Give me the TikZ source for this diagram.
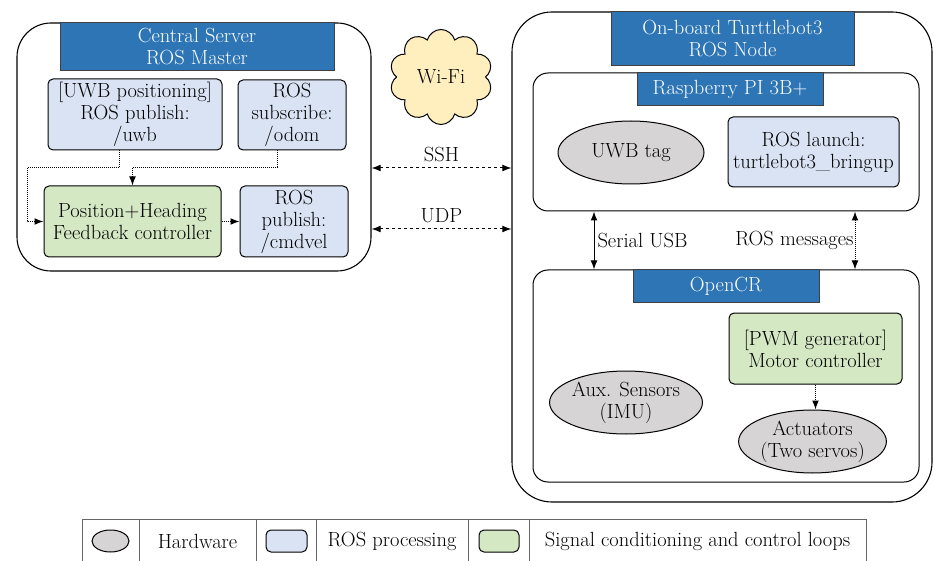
\documentclass[tikz,border=0pt]{standalone}
\usetikzlibrary{shapes.geometric,shapes.symbols,arrows.meta}

\definecolor{hdrblue}{RGB}{46,117,182}
\definecolor{rosblue}{RGB}{218,227,243}
\definecolor{ctrlgreen}{RGB}{213,232,196}
\definecolor{hwgray}{RGB}{214,212,212}
\definecolor{wifiyellow}{RGB}{255,238,190}

\tikzset{
  container/.style={draw, line width=1.1pt, rounded corners=34pt},
  board/.style={draw, line width=1pt, rounded corners=15pt},
  header/.style={draw=black!75, fill=hdrblue, text=white, line width=1pt, align=center, inner sep=0pt},
  rosbox/.style={draw, fill=rosblue, rounded corners=5pt, line width=1pt, align=center, inner sep=0pt},
  ctrlbox/.style={rosbox, fill=ctrlgreen},
  hwell/.style={draw, fill=hwgray, ellipse, line width=1pt, align=center, inner sep=0pt},
  link/.style={dashed, line width=1pt, {Latex[length=9pt]}-{Latex[length=9pt]}},
  usb/.style={line width=1pt, {Latex[length=9pt]}-{Latex[length=9pt]}},
  rosmsg/.style={densely dotted, line width=1pt, {Latex[length=9pt]}-{Latex[length=9pt]}},
  flow/.style={densely dotted, line width=1pt, -{Latex[length=9pt]}},
  key/.style={draw=black!60, line width=0.7pt},
}

\begin{document}
\begin{tikzpicture}[x=1pt, y=-1pt, font=\fontsize{20.5}{22}\selectfont]
    \useasboundingbox (0,0) rectangle (934,561);

    % central server
    \node[container, minimum width=354pt, minimum height=248pt] (server) at (194,147) {};
    \node[header, minimum width=274pt, minimum height=48pt] (serverhdr) at (197,47) {Central Server\\ROS Master};
    \node[rosbox, minimum width=174pt, minimum height=71pt] (uwbpub) at (135,114.5) {[UWB positioning]\\ROS publish:\\/uwb};
    \node[rosbox, minimum width=108pt, minimum height=70pt] (odom) at (292,115) {ROS\\subscribe:\\/odom};
    \node[ctrlbox, minimum width=177pt, minimum height=71pt] (ctrl) at (132.5,221.5) {Position+Heading\\Feedback controller};
    \node[rosbox, minimum width=108pt, minimum height=71pt] (cmdvel) at (294,221.5) {ROS\\publish:\\/cmdvel};
    \coordinate (fbk) at (27,168);

    \draw[flow] ([xshift=-16pt]uwbpub.south) |- (fbk) |- (ctrl.west);
    \draw[flow] ([xshift=-15pt]odom.south) |- ([yshift=18pt]ctrl.north) -- (ctrl.north);
    \draw[flow] (ctrl) -- (cmdvel);

    \node[cloud, cloud puffs=10, aspect=1.1, draw, fill=wifiyellow, line width=1pt,
          minimum width=103pt, minimum height=95pt, inner sep=0pt] (wifi) at (441,77) {Wi-Fi};

    % on-board robot
    \node[container, rounded corners=40pt, minimum width=420pt, minimum height=490pt] (robot) at (722,257) {};
    \node[header, minimum width=243pt, minimum height=54pt] (robothdr) at (732.5,39) {On-board Turttlebot3\\ROS Node};

    \node[board, minimum width=386pt, minimum height=138pt] (rpi) at (726,142) {};
    \node[header, minimum width=186pt, minimum height=33pt] (rpihdr) at (730,89.5) {Raspberry PI 3B+};
    \node[hwell, minimum width=146pt, minimum height=63pt] (uwbtag) at (631,152.5) {UWB tag};
    \node[rosbox, minimum width=171pt, minimum height=70pt] (launch) at (813.5,152) {ROS launch:\\turtlebot3\_bringup};

    \node[board, minimum width=386pt, minimum height=212pt] (opencr) at (726,376) {};
    \node[header, minimum width=186pt, minimum height=32pt] (opencrhdr) at (726,286) {OpenCR};
    \node[ctrlbox, minimum width=173pt, minimum height=71pt] (pwm) at (815.5,348.5) {[PWM generator]\\Motor controller};
    \node[hwell, minimum width=146pt, minimum height=63pt] (aux) at (626,402.5) {Aux. Sensors\\(IMU)};
    \node[hwell, minimum width=147pt, minimum height=63pt] (act) at (812.5,441.5) {Actuators\\(Two servos)};

    \draw[flow] (pwm.south) -- (pwm.south |- act.north);
    \draw[usb] ([xshift=-132pt]rpi.south) -- node[right, inner sep=3pt] {Serial USB} ([xshift=-132pt]opencr.north);
    \draw[rosmsg] ([xshift=129pt]rpi.south) -- node[left, inner sep=1pt] {ROS messages} ([xshift=129pt]opencr.north);

    % links
    \draw[link] ([yshift=-21pt]server.east) -- node[above, inner sep=6pt] {SSH} ([yshift=-21pt]server.east -| robot.west);
    \draw[link] ([yshift=-82pt]server.east) -- node[above, inner sep=6pt] {UDP} ([yshift=-82pt]server.east -| robot.west);

    % legend
    \draw[key] (82,562) |- (866,519) -- (866,562);
    \foreach \x in {139,256,316,468,529} {
        \draw[key] (\x,519) -- (\x,562);
    };
    \node[hwell, minimum width=37pt, minimum height=22pt] (keyhw) at (110.5,541) {};
    \node (keyhwtxt) at (197.5,541) {Hardware};
    \node[rosbox, minimum width=41pt, minimum height=22pt] (keyros) at (286.5,541) {};
    \node (keyrostxt) at (392,541) {ROS processing};
    \node[ctrlbox, minimum width=40pt, minimum height=22pt] (keyctrl) at (499,541) {};
    \node (keyctrltxt) at (697.5,541) {Signal conditioning and control loops};
\end{tikzpicture}
\end{document}
